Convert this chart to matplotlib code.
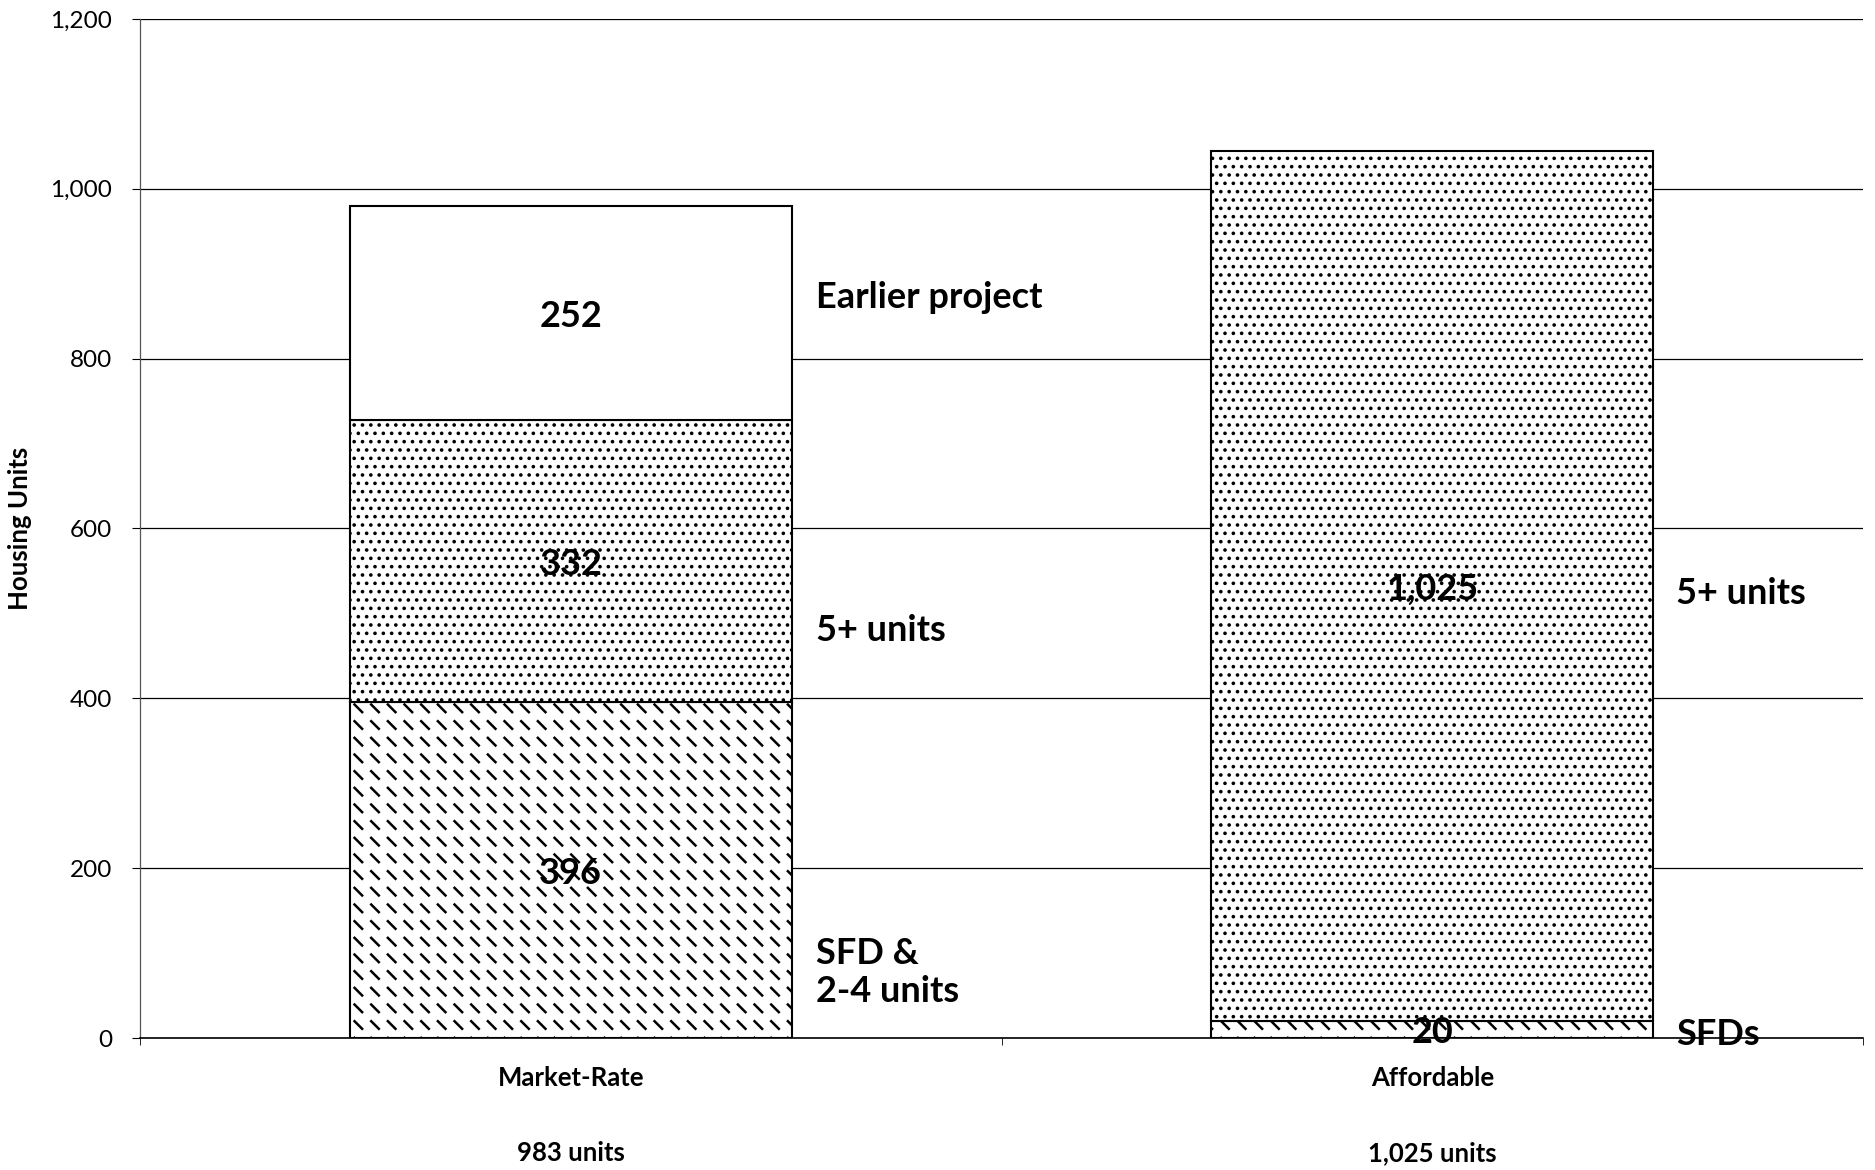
import numpy as np
import matplotlib
matplotlib.use("Agg")
import matplotlib.pyplot as plt
import matplotlib.hatch as mhatch
from matplotlib.path import Path
import warnings

# ---------------------------------------------------------------------------
# Data
# ---------------------------------------------------------------------------
categories = ["Market-Rate", "Affordable"]
totals = ["983 units", "1,025 units"]

sfd_units = [396, 20]          # SFD & 2-4 units / SFDs
five_plus = [332, 1025]        # 5+ units
earlier = [252, 0]             # earlier project

side_labels_left = ["Earlier project", "5+ units", "SFD &\n2-4 units"]
side_labels_right = ["5+ units", "SFDs"]


# ---------------------------------------------------------------------------
# Short diagonal dash hatch ('~'), like the scanned original
# ---------------------------------------------------------------------------
class ShortDashes(mhatch.HatchPatternBase):
    def __init__(self, hatch, density):
        self.num_rows = hatch.count("~") * density
        self.num_vertices = 2 * self.num_rows ** 2

    def set_vertices_and_codes(self, vertices, codes):
        n = self.num_rows
        c = (np.arange(n) + 0.5) / n
        cx, cy = np.meshgrid(c, c)
        cx, cy = cx.ravel(), cy.ravel()
        d = 0.038
        vertices[0::2, 0] = cx - d
        vertices[0::2, 1] = cy + d
        vertices[1::2, 0] = cx + d
        vertices[1::2, 1] = cy - d
        codes[0::2] = Path.MOVETO
        codes[1::2] = Path.LINETO


mhatch._hatch_types.append(ShortDashes)
warnings.filterwarnings("ignore")

plt.rcParams["font.family"] = ["Lato", "DejaVu Sans"]

# ---------------------------------------------------------------------------
# Plot
# ---------------------------------------------------------------------------
fig = plt.figure(figsize=(18.75, 11.7), dpi=100)
ax = fig.add_axes([0.0747, 0.1128, 0.9189, 0.871])

x = np.arange(len(categories))
w = 0.513
bar_kw = dict(width=w, color="white", edgecolor="black", linewidth=1.5, zorder=3)

with plt.rc_context({"hatch.linewidth": 1.8}):
    ax.bar(x, sfd_units, hatch="~", **bar_kw)
bottom2 = np.array(sfd_units)
with plt.rc_context({"hatch.linewidth": 1.4}):
    ax.bar(x, five_plus, bottom=bottom2, hatch="..", **bar_kw)
bottom3 = bottom2 + np.array(five_plus)
ax.bar(x[:1], earlier[:1], bottom=bottom3[:1], **bar_kw)

# values inside segments
num_kw = dict(ha="center", va="center", fontsize=26, fontweight="bold", zorder=5)
for i in range(len(categories)):
    ax.text(x[i], sfd_units[i] / 2 - 4, f"{sfd_units[i]:,}", **num_kw)
    ax.text(x[i], bottom2[i] + five_plus[i] / 2 - 4, f"{five_plus[i]:,}", **num_kw)
ax.text(x[0], bottom3[0] + earlier[0] / 2 - 4, f"{earlier[0]:,}", **num_kw)

# labels beside the bars
lab_kw = dict(ha="left", va="center", fontsize=26, fontweight="bold")
for lab, yy in zip(side_labels_left, [872, 480, 77]):
    ax.text(0.285, yy, lab, linespacing=1.2, **lab_kw)
for lab, yy in zip(side_labels_right, [524, 4]):
    ax.text(1.283, yy, lab, **lab_kw)

# axes
ax.set_xlim(-0.5, 1.5)
ax.set_ylim(0, 1200)
ax.set_yticks(np.arange(0, 1201, 200))
ax.yaxis.set_major_formatter(matplotlib.ticker.StrMethodFormatter("{x:,.0f}"))
ax.grid(axis="y", color="black", linewidth=0.9, zorder=0)
ax.set_axisbelow(True)

ax.set_xticks(x)
ax.set_xticklabels(categories, fontsize=18.5, fontweight="bold")
ax.set_xticks([-0.5, 0.5, 1.5], minor=True)
ax.tick_params(axis="x", which="major", length=0, pad=20)
ax.tick_params(axis="x", which="minor", length=5, direction="out")
ax.tick_params(axis="y", labelsize=17.5, length=6, direction="out", pad=14)
for i, t in enumerate(totals):
    ax.text(x[i], -0.113, t, transform=ax.get_xaxis_transform(),
            ha="center", va="center", fontsize=18.5, fontweight="bold")

ax.set_ylabel("Housing Units", fontsize=18.5, fontweight="bold")
ax.yaxis.set_label_coords(-0.063, 0.5)

for s in ["top", "right"]:
    ax.spines[s].set_visible(False)
ax.spines["left"].set_color("#555555")
ax.spines["left"].set_linewidth(0.9)
ax.spines["bottom"].set_linewidth(1.2)

plt.savefig("out.png", dpi=100)
